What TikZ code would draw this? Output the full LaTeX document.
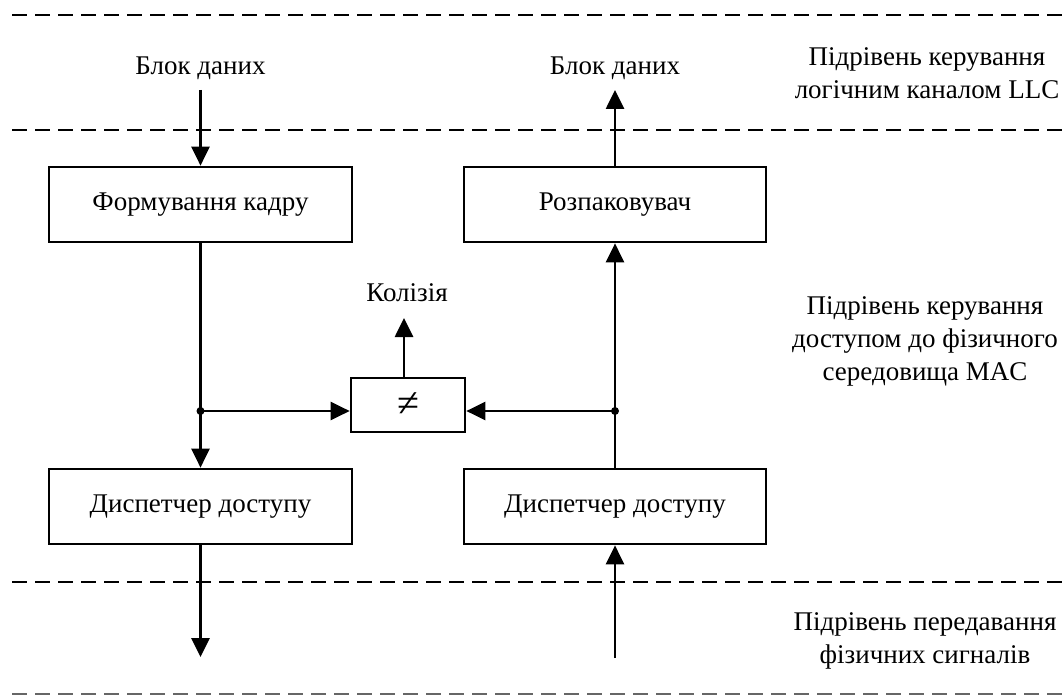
\documentclass[tikz,border=0pt]{standalone}
\usepackage{fontspec}
\setmainfont{Liberation Serif}
\usetikzlibrary{arrows.meta,calc}
\tikzset{
 txt/.style={font=\fontsize{27}{33}\selectfont},
 box/.style={draw, line width=2.7pt, minimum width=303pt, minimum height=75pt, inner sep=0pt, txt},
 lbl/.style={txt, inner sep=0pt, align=center},
 conn/.style={line width=2.7pt, -{Triangle[length=19pt,width=18pt]}},
 sepline/.style={line width=2.4pt, dash pattern=on 15pt off 8pt},
 junct/.style={circle, fill, inner sep=0pt, minimum size=8pt}
}
\begin{document}
\begin{tikzpicture}[x=1pt,y=-1pt]
\useasboundingbox (0,0) rectangle (1062,695);
% layer separators
\draw[sepline] (12,15) -- (1062,15);
\draw[sepline] (12,130) -- (1062,130);
\draw[sepline] (12,582) -- (1062,582);
\draw[sepline, black!60] (12,694) -- (1062,694);
% layer labels
\node[lbl] (llc) at (927,73) {Підрівень керування\\логічним каналом LLC};
\node[lbl] (mac) at (925,341) {Підрівень керування\\доступом до фізичного\\середовища MAC};
\node[lbl] (phy) at (925,641) {Підрівень передавання\\фізичних сигналів};
% blocks
\node[box] (form) at (200.5,204.5) {Формування кадру};
\node[box, minimum width=302pt] (unpack) at (615,204.5) {Розпаковувач};
\node[box] (dispL) at (200.5,506.5) {Диспетчер доступу};
\node[box, minimum width=302pt] (dispR) at (615,506.5) {Диспетчер доступу};
\node[box, minimum width=114pt, minimum height=54pt, font=\fontsize{40}{40}\selectfont] (ne) at (408,405) {≠};
% text labels
\node[lbl] (inL) at (200.5,68) {Блок даних};
\node[lbl] (outR) at (615,68) {Блок даних};
\node[lbl] (col) at (407,293) {Колізія};
% free ends and junctions
\coordinate (inLend) at (200.5,90);
\coordinate (outRend) at (615,90);
\coordinate (colend) at (404,318);
\coordinate (outLend) at (200.5,657);
\coordinate (inRend) at (615,658);
\node[junct] (jL) at (200.5,411) {};
\node[junct] (jR) at (615,411) {};
% connectors
\draw[conn] (inLend) -- (form.north);
\draw[conn] (unpack.north) -- (outRend);
\draw[conn] (form.south) -- (dispL.north);
\draw[conn] (jL.center) -- (jL.center -| ne.west);
\draw[conn] (dispR.north) -- (unpack.south);
\draw[conn] (jR.center) -- (jR.center -| ne.east);
\draw[conn] (ne.north -| colend) -- (colend);
\draw[conn] (dispL.south) -- (outLend);
\draw[conn] (inRend) -- (dispR.south);
\end{tikzpicture}
\end{document}
